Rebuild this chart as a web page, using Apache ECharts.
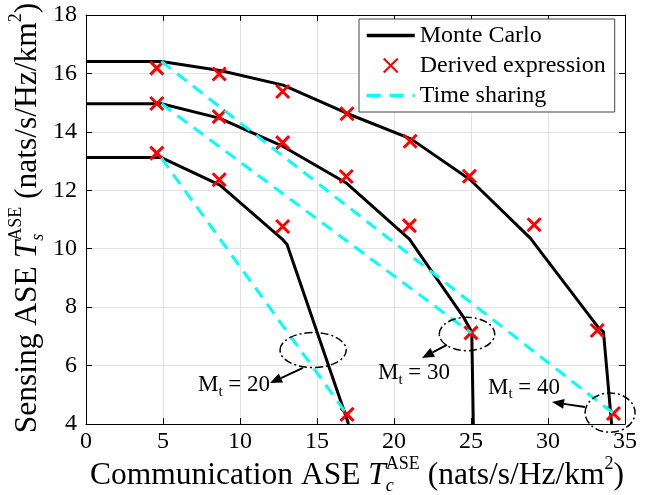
<!DOCTYPE html>
<html lang="en">

<head>
    <meta charset="UTF-8">
    <title>ASE tradeoff</title>
    <script src="https://cdn.jsdelivr.net/npm/echarts@6/dist/echarts.min.js"></script>
    <style>
        * {
            margin: 0;
            padding: 0;
        }

        #main {
            width: 649px;
            height: 495px;
            background: #fff;
        }
    </style>
</head>

<body>
    <div id="main"></div>
    <script>
        // axis ranges [min, max, step]
        var xRange = [0, 35, 5];
        var yRange = [4, 18, 2];

        // Monte Carlo curves (comm ASE, sensing ASE)
        var mc20 = [[0, 13.12], [4.9, 13.12], [8.7, 12.18], [12.8, 10.3], [13.05, 10.15], [17.05, 4]];
        var mc30 = [[0, 14.96], [4.9, 14.96], [8.65, 14.47], [12.8, 13.5], [16.93, 12.24], [21.0, 10.33], [24.5, 7.67], [25.05, 7.15], [25.15, 4]];
        var mc40 = [[0, 16.41], [4.9, 16.41], [8.7, 16.1], [12.8, 15.6], [17.0, 14.62], [21.1, 13.76], [24.95, 12.36], [28.85, 10.36], [33.3, 7.28], [33.6, 7.16], [34.13, 4]];

        // derived expression points
        var de20 = [[4.6, 13.27], [8.65, 12.36], [12.77, 10.76], [16.95, 4.33]];
        var de30 = [[4.6, 14.97], [8.65, 14.52], [12.77, 13.63], [16.9, 12.47], [21.0, 10.79], [25.0, 7.12]];
        var de40 = [[4.6, 16.18], [8.65, 15.98], [12.77, 15.38], [16.95, 14.62], [21.05, 13.68], [24.9, 12.48], [29.1, 10.82], [33.2, 7.2], [34.25, 4.36]];

        // time sharing lines
        var ts20 = [[4.9, 13.1], [16.95, 4.33]];
        var ts30 = [[4.9, 14.96], [25.0, 7.12]];
        var ts40 = [[4.9, 16.41], [34.25, 4.36]];

        // annotation labels
        var mtLabels = ['20', '30', '40'];

        var FONT = '"Liberation Serif", "Times New Roman", serif';
        var cross = 'path://M0,0L10,10M10,0L0,10';
        var clear = 'rgba(0,0,0,0)';

        var chart = echarts.init(document.getElementById('main'));

        function mcSeries(d) {
            return {
                name: 'Monte Carlo', type: 'line', data: d, symbol: 'none', z: 2,
                lineStyle: { color: '#000', width: 3 }, itemStyle: { color: clear }
            };
        }
        function deSeries(d) {
            return {
                name: 'Derived expression', type: 'scatter', data: d, symbol: cross, symbolSize: 13, z: 3,
                itemStyle: { color: clear, borderColor: '#ff0000', borderWidth: 3, opacity: 1 }
            };
        }
        function tsSeries(d) {
            return {
                name: 'Time sharing', type: 'line', data: d, symbol: 'none', z: 4,
                lineStyle: { color: '#00ffff', width: 3, type: [12, 8] }, itemStyle: { color: clear }
            };
        }

        function axisX(pos, labels) {
            return {
                type: 'value', position: pos, min: xRange[0], max: xRange[1], interval: xRange[2],
                axisLine: { show: true, onZero: false, lineStyle: { color: '#000', width: 1 } },
                axisTick: { show: true, inside: true, length: 6, lineStyle: { color: '#000' } },
                axisLabel: { show: labels, color: '#000', fontSize: 24, fontFamily: FONT, margin: 6 },
                splitLine: { show: labels, lineStyle: { color: '#e2e2e2', width: 1 } }
            };
        }
        function axisY(pos, labels) {
            return {
                type: 'value', position: pos, min: yRange[0], max: yRange[1], interval: yRange[2],
                axisLine: { show: true, onZero: false, lineStyle: { color: '#000', width: 1 } },
                axisTick: { show: true, inside: true, length: 6, lineStyle: { color: '#000' } },
                axisLabel: { show: labels, color: '#000', fontSize: 24, fontFamily: FONT, margin: 9 },
                splitLine: { show: labels, lineStyle: { color: '#e2e2e2', width: 1 } }
            };
        }

        option = {
            animation: false,
            backgroundColor: '#fff',
            grid: { left: 86, right: 24, top: 15, bottom: 71, outerBoundsMode: 'none' },
            xAxis: [axisX('bottom', true), axisX('top', false)],
            yAxis: [axisY('left', true), axisY('right', false)],
            legend: {
                orient: 'vertical', left: 359, top: 19,
                itemWidth: 48, itemHeight: 14, itemGap: 3,
                padding: [3, 9, 3, 6],
                backgroundColor: '#fff', borderColor: '#444', borderWidth: 1, borderRadius: 0,
                selectedMode: false,
                textStyle: { fontFamily: FONT, fontSize: 24, color: '#000', lineHeight: 27 },
                data: [
                    { name: 'Monte Carlo', lineStyle: { width: 3.5 } },
                    { name: 'Derived expression', icon: cross },
                    { name: 'Time sharing', lineStyle: { width: 3.5, type: [14, 9] } }
                ]
            },
            series: [
                mcSeries(mc20), mcSeries(mc30), mcSeries(mc40),
                deSeries(de20), deSeries(de30), deSeries(de40),
                tsSeries(ts20), tsSeries(ts30), tsSeries(ts40)
            ]
        };
        chart.setOption(option);

        // ---- text with sub/superscripts built from pieces ----
        var ctx = document.createElement('canvas').getContext('2d');
        function fontStr(p) {
            return (p.italic ? 'italic ' : '') + p.size + 'px ' + FONT;
        }
        function textWidth(p) {
            ctx.font = fontStr(p);
            return ctx.measureText(p.t).width;
        }
        // runs: each run is a piece or an array of stacked pieces
        function richGroup(runs, x, y, anchor, rot) {
            var kids = [], cur = 0;
            runs.forEach(function (run) {
                var list = Array.isArray(run) ? run : [run];
                var w = 0;
                list.forEach(function (p) {
                    kids.push({
                        type: 'text', x: cur, y: p.dy || 0,
                        style: {
                            text: p.t, fill: '#000', fontSize: p.size, fontFamily: FONT,
                            fontStyle: p.italic ? 'italic' : 'normal', align: 'left', verticalAlign: 'middle'
                        }
                    });
                    w = Math.max(w, textWidth(p));
                });
                cur += w;
            });
            var shift = anchor === 'center' ? -cur / 2 : 0;
            kids.forEach(function (k) { k.x += shift; });
            return { type: 'group', x: x, y: y, rotation: rot || 0, children: kids, silent: true };
        }

        var T = 31.5, S = 18;
        function titleRuns(word, sub) {
            return [
                { t: word + ' ASE ', size: T },
                { t: 'T', size: T, italic: true },
                [{ t: 'ASE', size: S, dy: -12 }, { t: sub, size: S, italic: true, dy: 10 }],
                { t: ' (nats/s/Hz/km', size: T },
                { t: '2', size: S, dy: -12 },
                { t: ')', size: T }
            ];
        }

        function px(p) {
            return chart.convertToPixel({ xAxisIndex: 0, yAxisIndex: 0 }, p);
        }

        // annotation anchors in data units: ellipse centre / radii, arrow from -> to, label left-middle
        var notes = [
            { c: [14.75, 6.53], r: [2.15, 0.6], from: [14.09, 5.92], to: [11.95, 5.40], txt: [7.27, 5.34] },
            { c: [24.74, 7.08], r: [1.8, 0.57], from: [23.44, 6.71], to: [21.82, 6.26], txt: [18.96, 5.75] },
            { c: [34.03, 4.39], r: [1.62, 0.67], from: [32.40, 4.58], to: [30.26, 4.75], txt: [26.10, 5.25] }
        ];

        var graphics = [];
        graphics.push(richGroup(titleRuns('Communication', 'c'), 357, 476, 'center', 0));
        graphics.push(richGroup(titleRuns('Sensing', 's'), 28, 218, 'center', Math.PI / 2));

        notes.forEach(function (n, i) {
            var c = px(n.c);
            var e = px([n.c[0] + n.r[0], n.c[1] + n.r[1]]);
            graphics.push({
                type: 'ellipse', silent: true, z: 10,
                shape: { cx: c[0], cy: c[1], rx: Math.abs(e[0] - c[0]), ry: Math.abs(e[1] - c[1]) },
                style: { fill: null, stroke: '#000', lineWidth: 1.5, lineDash: [8, 3, 2, 3] }
            });
            var a = px(n.from), b = px(n.to);
            var dx = b[0] - a[0], dy = b[1] - a[1], len = Math.sqrt(dx * dx + dy * dy);
            var ux = dx / len, uy = dy / len, hl = 12, hw = 5;
            var bx = b[0] - ux * hl, by = b[1] - uy * hl;
            graphics.push({
                type: 'line', silent: true, z: 10,
                shape: { x1: a[0], y1: a[1], x2: bx, y2: by },
                style: { stroke: '#000', lineWidth: 2 }
            });
            graphics.push({
                type: 'polygon', silent: true, z: 10,
                shape: { points: [[b[0], b[1]], [bx - uy * hw, by + ux * hw], [bx + uy * hw, by - ux * hw]] },
                style: { fill: '#000' }
            });
            var t = px(n.txt);
            graphics.push(richGroup([
                { t: 'M', size: 23 },
                { t: 't', size: 15, dy: 7 },
                { t: ' = ' + mtLabels[i], size: 23 }
            ], t[0], t[1], 'left', 0));
        });

        chart.setOption({ graphic: graphics });
    </script>
</body>

</html>
